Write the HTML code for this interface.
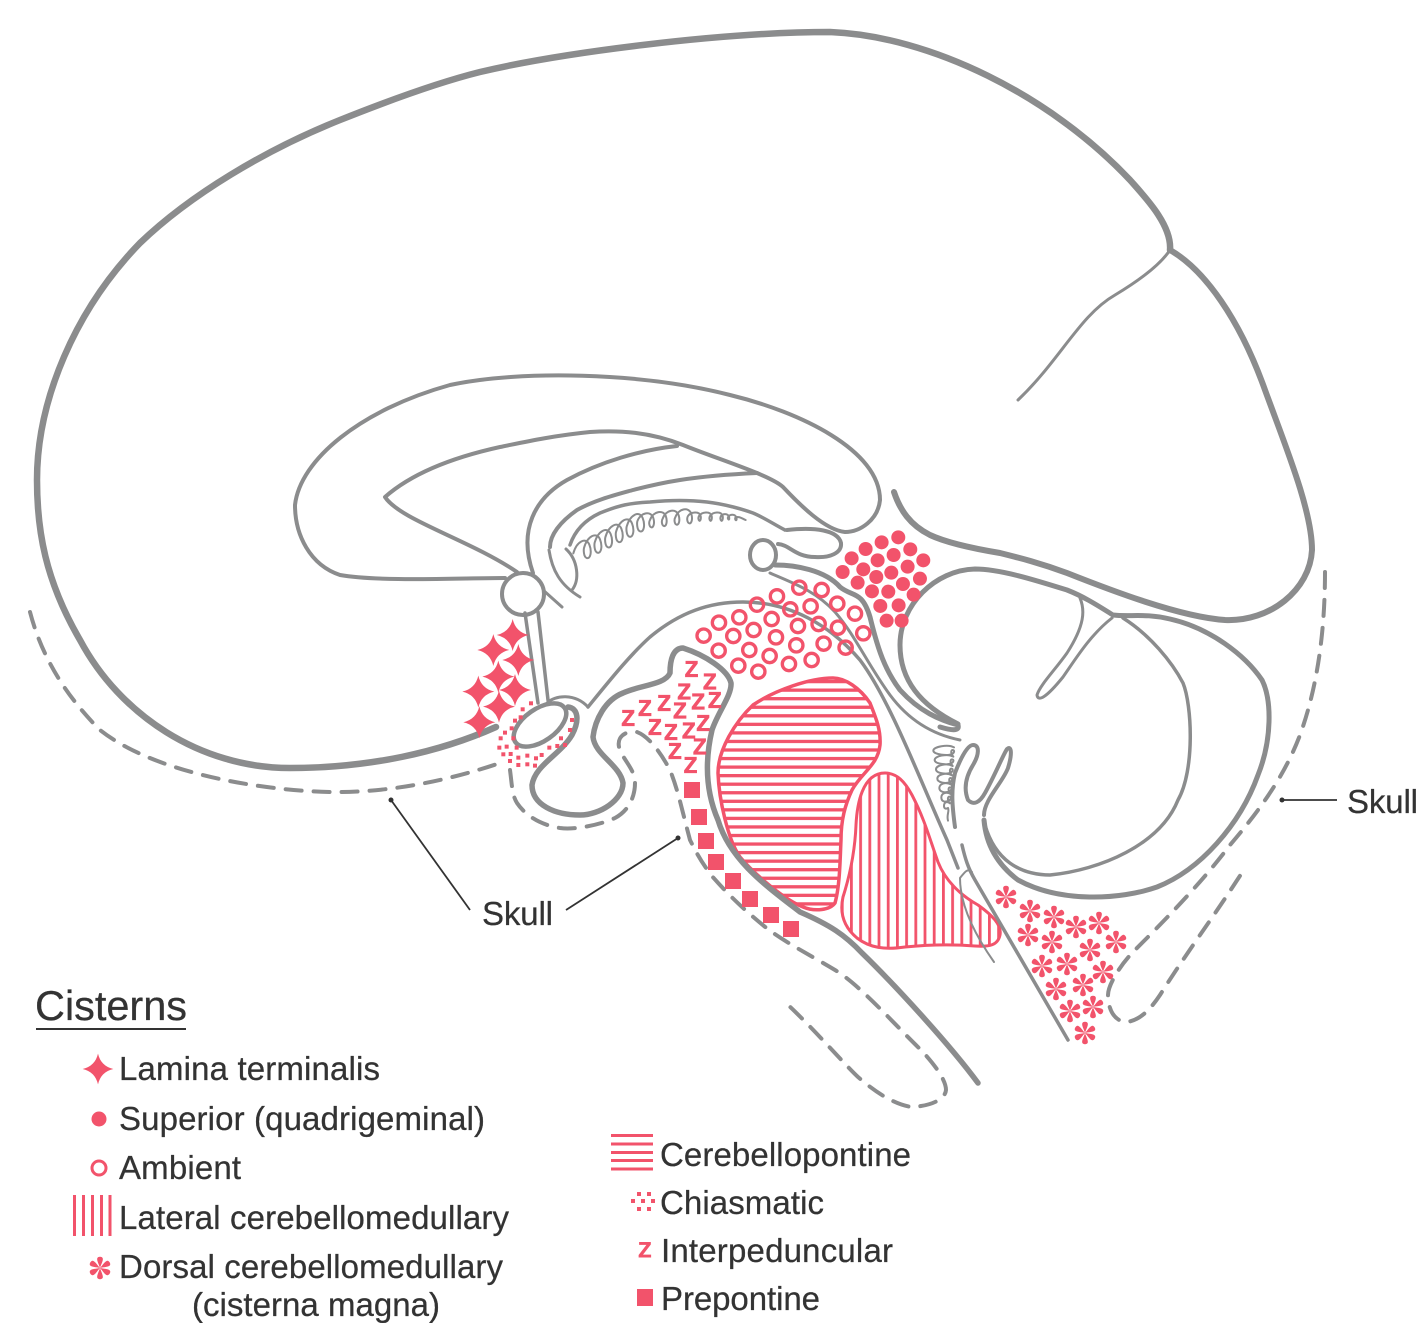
<!DOCTYPE html>
<html lang="en"><head><meta charset="utf-8"><title>Cisterns</title>
<style>
html,body{margin:0;padding:0;background:#fff}
svg{display:block}
text{font-family:"Liberation Sans",Arial,sans-serif;fill:#333}
.lbl text{stroke:#333;stroke-width:.25}
.g{fill:none;stroke:#8b8c8d;stroke-linecap:round;stroke-linejoin:round}
.p{fill:#f2536b}
.zz text{fill:#f2536b;stroke:#f2536b;stroke-width:3.5}
</style></head><body>
<svg xmlns="http://www.w3.org/2000/svg" width="1419" height="1323" viewBox="0 0 1419 1323">
<defs>
<pattern id="hh" width="20" height="8.55" patternUnits="userSpaceOnUse" patternTransform="translate(0 688.5)"><rect width="20" height="8.55" fill="#fff"/><rect width="20" height="3.3" fill="#f2536b"/></pattern>
<pattern id="vv" width="9.2" height="20" patternUnits="userSpaceOnUse" patternTransform="translate(850 0)"><rect width="9.2" height="20" fill="#fff"/><rect width="2.8" height="20" fill="#f2536b"/></pattern>
<path id="st" d="M0-48Q9-9 48 0Q9 9 0 48Q-9 9-48 0Q-9-9 0-48Z" fill="#f2536b"/>
<g id="as" fill="#f2536b">
<path d="M0 0C-1.200-4-3.200-7-2.800-9.500C-2.400-11.800 2.400-11.800 2.800-9.500C3.200-7 1.200-4 0 0Z"/>
<path d="M0 0C-1.200-4-3.200-7-2.800-9.500C-2.400-11.800 2.400-11.800 2.800-9.500C3.200-7 1.200-4 0 0Z" transform="rotate(60)"/>
<path d="M0 0C-1.200-4-3.200-7-2.800-9.500C-2.400-11.800 2.400-11.800 2.800-9.500C3.200-7 1.200-4 0 0Z" transform="rotate(120)"/>
<path d="M0 0C-1.200-4-3.200-7-2.800-9.500C-2.400-11.800 2.400-11.800 2.800-9.500C3.200-7 1.200-4 0 0Z" transform="rotate(180)"/>
<path d="M0 0C-1.200-4-3.200-7-2.800-9.500C-2.400-11.800 2.400-11.800 2.800-9.500C3.200-7 1.200-4 0 0Z" transform="rotate(240)"/>
<path d="M0 0C-1.200-4-3.200-7-2.800-9.500C-2.400-11.800 2.400-11.800 2.800-9.500C3.200-7 1.200-4 0 0Z" transform="rotate(300)"/>
</g>
</defs>
<rect width="1419" height="1323" fill="#fff"/>

<!-- hatched cisterns -->
<path d="M833 678C845 678 860 688 870 703C876 718 881 730 880 745C878 765 862 772 852 790C845 805 841 820 841 840C840 860 840 885 835 903C830 910 815 912 803 907C785 900 755 875 740 857C728 840 719 800 718 773C718 750 735 722 753 705C775 690 810 678 833 678Z" fill="url(#hh)" stroke="#f2536b" stroke-width="3.5"/>
<path d="M885 773C897 773 905 782 912 795C925 820 930 840 938 862C945 880 960 895 978 905C992 915 1002 925 1000 935C998 945 990 947 975 946C950 944 925 945 905 947C885 950 870 948 857 938C845 928 839 915 843 897C850 875 855 850 856 825C857 805 862 773 885 773Z" fill="url(#vv)" stroke="#f2536b" stroke-width="3"/>

<!-- main grey outlines -->
<g class="g">
<path stroke-width="6.5" d="M496 727C440 752 370 768 290 768C200 768 120 715 80 640C45 580 37 530 37 480C37 400 75 310 140 243C190 195 265 150 340 120C390 100 440 82 480 72C560 53 720 32 830 32C930 36 1050 95 1130 180C1145 197 1172 225 1170 250"/>
<path stroke-width="6" d="M1170 250C1205 270 1240 320 1265 390C1285 445 1312 510 1312 550C1310 590 1270 622 1225 620C1180 617 1110 590 1067 573C1040 563 1020 558 1000 553C970 548 945 542 930 535C910 525 900 510 894 492"/>
<path stroke-width="3" d="M1170 250C1160 265 1140 280 1115 295C1080 315 1060 360 1018 400"/>

<!-- corpus callosum -->
<path stroke-width="4" d="M505 578C460 578 380 582 340 575C310 565 295 535 295 505C300 460 360 410 450 385C520 370 640 372 730 395C800 412 880 450 880 500C878 520 860 532 845 532C825 530 800 505 783 487C770 475 720 460 683 445C650 432 620 430 590 432C550 436 520 443 500 447C450 458 410 475 385 497C400 520 470 540 517 572"/>
<path stroke-width="4" d="M677 446C640 450 600 462 567 480C535 498 518 530 533 573"/>
<path stroke-width="4" d="M550 547C550 535 560 522 577 510C595 500 615 495 633 490C660 483 690 476 757 473"/>
<path stroke-width="3.5" d="M570 545C575 530 585 520 600 513C620 505 630 503 650 502C670 500 690 500 707 502C725 504 745 510 753 513C765 518 775 525 785 530"/>
<path stroke-width="3" d="M549 550C552 570 560 585 580 597M566 549C578 560 580 580 572 590M543 590L562 607"/>
<circle cx="523" cy="594" r="21" fill="#fff" stroke-width="4"/>
<path stroke-width="3.5" d="M525 613L538 703M538 612L548 700"/>

<!-- habenula / tectum -->
<ellipse cx="763" cy="555" rx="13" ry="15" stroke-width="4"/>
<path stroke-width="4" d="M778 544C790 545 795 557 815 557C830 558 842 553 841 543C838 530 815 527 787 530"/>
<path stroke-width="5" d="M775 565C795 565 825 570 840 587C852 597 862 590 870 617C878 650 885 670 900 690C920 712 940 720 958 725C960 732 950 730 940 727"/>
<path stroke-width="3" d="M770 573C790 582 815 590 835 612C855 635 868 665 890 695C910 722 935 735 960 740"/>

<!-- cerebellum -->
<path stroke-width="5" d="M958 724C920 705 900 680 900 645C900 605 935 570 975 569C1000 569 1035 580 1067 590C1085 597 1100 607 1113 615C1130 617 1145 613 1170 619C1210 628 1245 655 1262 680C1272 700 1272 740 1258 775C1240 825 1200 870 1157 887C1120 900 1060 903 1018 880C998 865 986 845 984 820"/>
<path stroke-width="3.5" d="M1123 618C1150 635 1172 662 1183 683C1192 705 1195 770 1178 800C1160 845 1100 870 1050 875C1020 875 995 860 985 825"/>
<path stroke-width="3" d="M1080 598C1085 610 1085 625 1067 653C1055 670 1040 685 1037 695C1038 702 1046 698 1063 677C1075 660 1090 635 1112 618"/>
<path stroke-width="4" d="M955 827C952 805 951 790 955 773C960 760 967 745 973 745C980 745 979 755 973 765C965 778 964 790 968 800C974 806 980 802 985 793C995 775 1003 755 1007 749C1012 745 1012 755 1008 768C1003 782 984 800 984 815"/>

<!-- brainstem back wall -->
<path stroke-width="3.5" d="M588 707C610 680 630 655 650 637C680 612 710 602 743 602C790 602 830 625 860 660C890 700 920 780 947 840L958 868"/>
<path stroke-width="3.5" d="M962 845C965 858 968 868 975 880L1068 1040"/>
<path stroke-width="2" d="M960 878C965 872 967 868 972 872M960 878C960 905 975 935 994 962"/>

<!-- pons + chiasm recess -->
<path stroke-width="5.5" d="M978 1083C950 1045 895 985 862 953C845 935 830 925 800 912C765 885 730 860 718 820C705 790 705 760 712 730C718 712 732 695 731 683C728 670 705 655 683 648C673 648 670 660 670 673C665 685 640 685 623 693C605 700 595 720 593 737C595 755 620 765 623 783C623 800 600 815 580 815C555 815 532 805 532 785C535 765 560 755 572 735C580 720 578 708 568 707"/>
<ellipse cx="540" cy="725" rx="30" ry="16" transform="rotate(-35 540 725)" stroke-width="4.5"/>
<path stroke-width="3" d="M547 703C555 695 575 693 588 707"/>

<!-- coils -->
<g transform="translate(540 490) scale(.3333)" stroke-width="6">
<path d="M100 190c10-36 38-50 48-26c8 20 4 44-8 40c-10-4-9-26-8-30c10-36 38-50 48-26c8 20 4 44-8 40c-10-4-9-26-8-30c10-36 38-50 48-26c8 20 4 44-8 40c-10-4-9-26-8-30c10-36 38-50 48-26c8 20 4 44-8 40c-10-4-9-26-8-30c10-36 38-50 48-26c8 20 4 44-8 40c-10-4-9-26-8-30c10-36 38-50 48-26c8 20 4 44-8 40c-10-4-9-26-8-30c10-28 42-32 48-10c5 16 0 30-6 28c-7-2-8-16-4-22c10-28 42-32 48-10c5 16 0 30-6 28c-7-2-8-16-4-22c10-28 42-32 48-10c5 16 0 30-6 28c-7-2-8-16-4-22c10-28 42-32 48-10c5 16 0 30-6 28c-7-2-8-16-4-22c8-12 34-16 38 0c2 10-2 16-4 14c-3-2-4-8-1-14c8-12 34-16 38 0c2 10-2 16-4 14c-3-2-4-8-1-14c8-12 34-16 38 0c2 10-2 16-4 14c-3-2-4-8-1-14c6-8 20-8 24 2c2 8 0 10-2 8c-2-2-2-6 0-8c6-8 20-8 24 2c2 8 0 10-2 8c-2-2-2-6 0-8c10-4 20 4 30 8"/>
</g>
<g transform="translate(900 720) scale(.3333)" stroke-width="6">
<path d="M162 82c-18-10-62-2-62 10c0 12 44 16 56 10c8-4 8-12 2-12c-6 0-6 12 2 20c-18-10-56-2-56 10c0 12 38 16 50 10c8-4 8-12 2-12c-6 0-6 12 2 20c-18-10-50-2-50 10c0 12 32 16 44 10c8-4 8-12 2-12c-6 0-6 12 2 20c-18-10-44-2-44 10c0 12 26 16 38 10c8-4 8-12 2-12c-6 0-6 12 2 20c-18-10-36-2-36 10c0 12 18 16 30 10c8-4 8-12 2-12c-6 0-6 12 2 20c-14-8-28-2-28 10c0 12 10 16 22 10c8-4 8-12 2-12c-6 0-6 12 2 20c-10-8-18-2-18 8c0 8 6 10 12 6c5 10-5 20 0 38"/>
</g>

<!-- skull dashed -->
<g stroke-width="4" stroke-dasharray="16 12">
<path d="M30 612C40 650 60 690 100 730C150 770 250 790 330 792C390 793 450 780 500 763"/>
<path d="M510 770C512 785 512 795 517 803C525 815 540 825 560 828C575 830 600 825 615 818C630 810 635 795 635 783C635 770 625 762 620 750C615 738 625 730 637 732C650 737 662 755 670 770C678 790 682 810 690 840C695 850 700 860 711 875C730 897 750 915 769 930C790 945 810 955 835 970C860 985 895 1025 921 1050C935 1065 946 1080 946 1090C945 1100 930 1106 912 1107C895 1105 875 1092 858 1077C845 1065 815 1030 786 1003"/>
<path d="M1325 572C1325 620 1320 680 1300 735C1285 775 1260 810 1230 845C1200 885 1160 925 1135 950C1120 965 1108 985 1108 995C1108 1010 1115 1022 1127 1022C1140 1020 1150 1010 1160 995C1185 955 1215 915 1245 868"/>
</g>
</g>

<!-- z-coordinates group -->
<g transform="translate(450 480) scale(.3333)">
<use href="#st" x="188" y="465"/><use href="#st" x="130" y="510"/><use href="#st" x="205" y="540"/><use href="#st" x="145" y="590"/><use href="#st" x="85" y="635"/><use href="#st" x="195" y="630"/><use href="#st" x="147" y="680"/><use href="#st" x="88" y="727"/>
<g class="p">
<circle cx="1345" cy="172" r="21"/><circle cx="1295" cy="187" r="21"/><circle cx="1247" cy="207" r="21"/><circle cx="1205" cy="235" r="21"/><circle cx="1178" cy="276" r="21"/><circle cx="1240" cy="268" r="21"/><circle cx="1283" cy="241" r="21"/><circle cx="1331" cy="225" r="21"/><circle cx="1381" cy="208" r="21"/><circle cx="1420" cy="241" r="21"/><circle cx="1373" cy="260" r="21"/><circle cx="1324" cy="278" r="21"/><circle cx="1279" cy="291" r="21"/><circle cx="1223" cy="308" r="21"/><circle cx="1266" cy="334" r="21"/><circle cx="1315" cy="335" r="21"/><circle cx="1359" cy="312" r="21"/><circle cx="1410" cy="296" r="21"/><circle cx="1391" cy="344" r="21"/><circle cx="1346" cy="376" r="21"/><circle cx="1291" cy="378" r="21"/><circle cx="1310" cy="422" r="21"/><circle cx="1355" cy="422" r="21"/>
</g>
<g fill="none" stroke="#f2536b" stroke-width="10">
<circle cx="761" cy="467" r="20"/><circle cx="807" cy="428" r="20"/><circle cx="868" cy="412" r="20"/><circle cx="850" cy="468" r="20"/><circle cx="806" cy="512" r="20"/><circle cx="898" cy="510" r="20"/><circle cx="911" cy="450" r="20"/><circle cx="965" cy="417" r="20"/><circle cx="921" cy="374" r="20"/><circle cx="981" cy="349" r="20"/><circle cx="1048" cy="323" r="20"/><circle cx="1115" cy="330" r="20"/><circle cx="1162" cy="371" r="20"/><circle cx="1215" cy="401" r="20"/><circle cx="1240" cy="460" r="20"/><circle cx="1187" cy="503" r="20"/><circle cx="1164" cy="443" r="20"/><circle cx="1106" cy="432" r="20"/><circle cx="1082" cy="379" r="20"/><circle cx="1021" cy="388" r="20"/><circle cx="1044" cy="438" r="20"/><circle cx="978" cy="472" r="20"/><circle cx="1039" cy="496" r="20"/><circle cx="1121" cy="491" r="20"/><circle cx="1085" cy="540" r="20"/><circle cx="1017" cy="552" r="20"/><circle cx="959" cy="528" r="20"/><circle cx="865" cy="557" r="20"/><circle cx="925" cy="575" r="20"/>
</g>
<g class="zz" font-size="86" text-anchor="middle">
<text x="725" y="590">z</text><text x="780" y="627">z</text><text x="703" y="657">z</text><text x="745" y="687">z</text><text x="795" y="682">z</text><text x="585" y="707">z</text><text x="643" y="692">z</text><text x="690" y="714">z</text><text x="535" y="737">z</text><text x="760" y="752">z</text><text x="615" y="764">z</text><text x="663" y="779">z</text><text x="717" y="774">z</text><text x="750" y="822">z</text><text x="675" y="835">z</text><text x="722" y="877">z</text>
</g>
<g class="p">
<rect x="237" y="664" width="12" height="12"/><rect x="212" y="682" width="12" height="12"/><rect x="189" y="716" width="12" height="12"/><rect x="206" y="706" width="12" height="12"/><rect x="179" y="739" width="12" height="12"/><rect x="159" y="752" width="12" height="12"/><rect x="184" y="769" width="12" height="12"/><rect x="146" y="769" width="12" height="12"/><rect x="164" y="794" width="12" height="12"/><rect x="142" y="797" width="12" height="12"/><rect x="194" y="797" width="12" height="12"/><rect x="176" y="816" width="12" height="12"/><rect x="154" y="817" width="12" height="12"/><rect x="226" y="821" width="12" height="12"/><rect x="199" y="827" width="12" height="12"/><rect x="174" y="837" width="12" height="12"/><rect x="199" y="849" width="12" height="12"/><rect x="226" y="847" width="12" height="12"/><rect x="252" y="829" width="12" height="12"/><rect x="249" y="851" width="12" height="12"/><rect x="269" y="819" width="12" height="12"/><rect x="292" y="797" width="12" height="12"/><rect x="316" y="792" width="12" height="12"/><rect x="327" y="769" width="12" height="12"/><rect x="354" y="744" width="12" height="12"/><rect x="360" y="714" width="12" height="12"/><rect x="339" y="789" width="12" height="12"/>
</g>
</g>

<!-- prepontine squares -->
<g class="p">
<rect x="684" y="782" width="16" height="16"/><rect x="691" y="809" width="16" height="16"/><rect x="698" y="833" width="16" height="16"/><rect x="708" y="854" width="16" height="16"/><rect x="725" y="873" width="16" height="16"/><rect x="742" y="891" width="16" height="16"/><rect x="763" y="907" width="16" height="16"/><rect x="783" y="921" width="16" height="16"/>
</g>
<!-- asterisks -->
<use href="#as" x="1006" y="897"/><use href="#as" x="1030" y="911"/><use href="#as" x="1054" y="917"/><use href="#as" x="1076" y="927"/><use href="#as" x="1099" y="923"/><use href="#as" x="1116" y="942"/><use href="#as" x="1028" y="935"/><use href="#as" x="1052" y="942"/><use href="#as" x="1090" y="950"/><use href="#as" x="1042" y="966"/><use href="#as" x="1067" y="964"/><use href="#as" x="1103" y="972"/><use href="#as" x="1056" y="989"/><use href="#as" x="1083" y="985"/><use href="#as" x="1070" y="1011"/><use href="#as" x="1093" y="1007"/><use href="#as" x="1085" y="1033"/>

<!-- skull leaders -->
<g stroke="#333" stroke-width="1.8" fill="none"><path d="M391 800L470 910M678 838L566 910M1282 800H1337"/></g>
<g fill="#333"><circle cx="391" cy="800" r="2.5"/><circle cx="678" cy="838" r="2.5"/><circle cx="1282" cy="800" r="2.5"/></g>
<g class="lbl" font-size="33">
<text x="482" y="925" textLength="71">Skull</text>
<text x="1347" y="813" textLength="71">Skull</text>
</g>

<!-- legend -->
<g class="lbl">
<text x="35" y="1020" font-size="41.5" textLength="152">Cisterns</text>
<g font-size="33">
<text x="119" y="1080" textLength="261">Lamina terminalis</text>
<text x="119" y="1130" textLength="366">Superior (quadrigeminal)</text>
<text x="119" y="1179" textLength="122">Ambient</text>
<text x="119" y="1229" textLength="390">Lateral cerebellomedullary</text>
<text x="119" y="1278" textLength="384">Dorsal cerebellomedullary</text>
<text x="192" y="1316" textLength="248">(cisterna magna)</text>
<text x="660" y="1166" textLength="251">Cerebellopontine</text>
<text x="660" y="1214" textLength="164">Chiasmatic</text>
<text x="661" y="1262" textLength="232">Interpeduncular</text>
<text x="661" y="1310" textLength="159">Prepontine</text>
</g>
</g>
<rect x="36" y="1028" width="150" height="2" fill="#333"/>
<use href="#st" transform="translate(98 1069) scale(.32)"/>
<circle class="p" cx="99" cy="1119" r="7.5"/>
<circle cx="99" cy="1168" r="7" fill="none" stroke="#f2536b" stroke-width="3"/>
<g class="p"><rect x="73" y="1195" width="3" height="41"/><rect x="82" y="1195" width="3" height="41"/><rect x="91" y="1195" width="3" height="41"/><rect x="100" y="1195" width="3" height="41"/><rect x="108.500" y="1195" width="3" height="41"/></g>
<use href="#as" x="100" y="1268"/>
<g class="p"><rect x="611" y="1134" width="42" height="3"/><rect x="611" y="1142.500" width="42" height="3"/><rect x="611" y="1151" width="42" height="3"/><rect x="611" y="1159" width="42" height="3"/><rect x="611" y="1167.500" width="42" height="3"/>
<rect x="637" y="1192" width="4" height="4"/><rect x="647" y="1192" width="4" height="4"/><rect x="631" y="1199" width="4" height="4"/><rect x="641" y="1199" width="4" height="4"/><rect x="651" y="1199" width="4" height="4"/><rect x="637" y="1207" width="4" height="4"/><rect x="647" y="1207" width="4" height="4"/>
<rect x="637" y="1289" width="16" height="17"/></g>
<text x="645" y="1257" font-size="28" text-anchor="middle" style="fill:#f2536b;stroke:#f2536b;stroke-width:1">z</text>
</svg>
</body></html>
